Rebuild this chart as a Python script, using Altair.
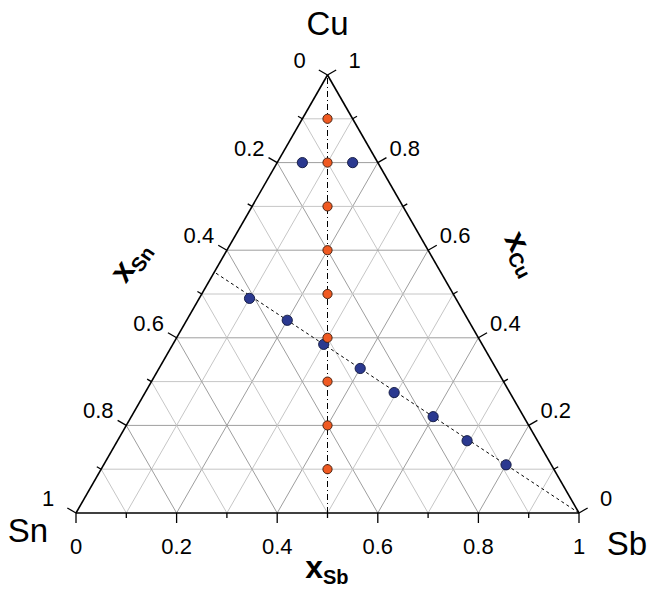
import altair as alt
import pandas as pd

# ---------------- data (ternary compositions) ----------------
grid_vals = [0.1, 0.2, 0.3, 0.4, 0.5, 0.6, 0.7, 0.8, 0.9]
tick_vals = [0.0, 0.1, 0.2, 0.3, 0.4, 0.5, 0.6, 0.7, 0.8, 0.9, 1.0]
label_vals = [0.0, 0.2, 0.4, 0.6, 0.8, 1.0]
label_text = ["0", "0.2", "0.4", "0.6", "0.8", "1"]

# orange series: x_Sn = x_Sb, varying x_Cu
orange_cu = [0.9, 0.8, 0.7, 0.6, 0.5, 0.4, 0.3, 0.2, 0.1]
orange_sb = [0.05, 0.10, 0.15, 0.20, 0.25, 0.30, 0.35, 0.40, 0.45]

# blue series
blue_cu = [0.80, 0.80, 0.49, 0.44, 0.385, 0.33, 0.275, 0.22, 0.165, 0.11]
blue_sb = [0.05, 0.15, 0.10, 0.20, 0.30, 0.40, 0.495, 0.60, 0.695, 0.80]

# guide lines (start / end compositions)
dashdot_sb = [0.5, 0.0]
dashdot_cu = [0.0, 1.0]
dashed_sb = [1.0, 0.0]
dashed_cu = [0.0, 0.55]

corner_names = ["Sn", "Sb", "Cu"]
corner_sb = [0.0, 1.0, 0.0]
corner_cu = [0.0, 0.0, 1.0]

FONT = "Liberation Sans"
PX_W, PX_H = 503.0, 438.0
xs = alt.Scale(domain=[-76 / PX_W, (648 - 76) / PX_W], nice=False, zero=False)
ys = alt.Scale(domain=[-77 / PX_H, 513 / PX_H], nice=False, zero=False)


def tern(chart):
    return chart.transform_calculate(X="datum.sb + datum.cu / 2", Y="datum.cu")


# ---------------- grid ----------------
g_rows = []
for v in grid_vals:
    kind = "even" if round(v * 10) % 2 == 0 else "odd"
    g_rows.append(dict(sb=0.0, cu=v, sb2=1 - v, cu2=v, kind=kind))
    g_rows.append(dict(sb=v, cu=0.0, sb2=v, cu2=1 - v, kind=kind))
    g_rows.append(dict(sb=1 - v, cu=0.0, sb2=0.0, cu2=1 - v, kind=kind))
grid_df = pd.DataFrame(g_rows)

grid = (
    alt.Chart(grid_df)
    .transform_calculate(X="datum.sb + datum.cu / 2", Y="datum.cu",
                         X2="datum.sb2 + datum.cu2 / 2", Y2="datum.cu2")
    .mark_rule(strokeWidth=1)
    .encode(
        x=alt.X("X:Q", scale=xs, axis=None),
        y=alt.Y("Y:Q", scale=ys, axis=None),
        x2="X2:Q",
        y2="Y2:Q",
        color=alt.Color("kind:N", scale=alt.Scale(domain=["even", "odd"],
                                                   range=["#9e9e9e", "#c6c6c6"]), legend=None),
    )
)

# ---------------- triangle edges ----------------
edge_df = pd.DataFrame(dict(sb=[0.0, 1.0, 0.0], cu=[0.0, 0.0, 1.0],
                            sb2=[1.0, 0.0, 0.0], cu2=[0.0, 1.0, 0.0]))
edges = (
    alt.Chart(edge_df)
    .transform_calculate(X="datum.sb + datum.cu / 2", Y="datum.cu",
                         X2="datum.sb2 + datum.cu2 / 2", Y2="datum.cu2")
    .mark_rule(strokeWidth=1.6, color="black")
    .encode(x=alt.X("X:Q", scale=xs, axis=None), y=alt.Y("Y:Q", scale=ys, axis=None),
            x2="X2:Q", y2="Y2:Q")
)

# ---------------- ticks ----------------
tick_layers = []
edge_pts = {
    "bottom": ([v for v in tick_vals], [0.0 for v in tick_vals], (0.0, 1.0)),
    "left": ([0.0 for v in tick_vals], [1 - v for v in tick_vals], (-0.866, -0.5)),
    "right": ([1 - v for v in tick_vals], [v for v in tick_vals], (0.866, -0.5)),
}
for name, (sbl, cul, (nx, ny)) in edge_pts.items():
    df = pd.DataFrame(dict(sb=sbl, cu=cul, v=tick_vals))
    df["major"] = [round(v * 10) % 2 == 0 for v in tick_vals]
    for major, L in ((True, 10.0), (False, 5.0)):
        sub = df[df["major"] == major]
        tick_layers.append(
            tern(alt.Chart(sub))
            .mark_rule(color="black", strokeWidth=1.3, x2Offset=nx * L, y2Offset=ny * L)
            .encode(x=alt.X("X:Q", scale=xs, axis=None), y=alt.Y("Y:Q", scale=ys, axis=None),
                    x2="X:Q", y2="Y:Q")
        )

# ---------------- tick labels ----------------
bottom_lab = pd.DataFrame(dict(sb=label_vals, cu=[0.0] * 6, t=label_text))
left_lab = pd.DataFrame(dict(sb=[0.0] * 6, cu=[1 - v for v in label_vals], t=label_text))
right_lab = pd.DataFrame(dict(sb=[1 - v for v in label_vals], cu=label_vals, t=label_text))


def labels(df, dx, dy):
    return (
        tern(alt.Chart(df))
        .mark_text(font=FONT, fontSize=22, align="center", baseline="middle", dx=dx, dy=dy, color="black")
        .encode(x=alt.X("X:Q", scale=xs, axis=None), y=alt.Y("Y:Q", scale=ys, axis=None), text="t:N")
    )


lab_layers = [labels(bottom_lab, 0, 34), labels(left_lab, -28, -14), labels(right_lab, 27, -14)]

# ---------------- corner names ----------------
corner_df = pd.DataFrame(dict(sb=corner_sb, cu=corner_cu, name=corner_names))
corner_off = {"Sn": (-48, 19), "Sb": (48, 32), "Cu": (0, -50)}
corner_layers = []
for nm, (dx, dy) in corner_off.items():
    corner_layers.append(
        tern(alt.Chart(corner_df[corner_df["name"] == nm]))
        .mark_text(font=FONT, fontSize=33, align="center", baseline="middle", dx=dx, dy=dy, color="black")
        .encode(x=alt.X("X:Q", scale=xs, axis=None), y=alt.Y("Y:Q", scale=ys, axis=None), text="name:N")
    )

# ---------------- axis titles (x with subscript) ----------------
title_layers = []
for sub_txt, px, py, ang in (("Sb", 323, 578, 0), ("Sn", 136, 270, 305), ("Cu", 512, 254, 62)):
    tdf = pd.DataFrame(dict(t=["x"], s=[sub_txt]))
    title_layers.append(
        alt.Chart(tdf).mark_text(font=FONT, fontSize=32, fontWeight="bold", align="right",
                                 baseline="alphabetic", angle=ang, color="black")
        .encode(x=alt.value(px), y=alt.value(py), text="t:N")
    )
    title_layers.append(
        alt.Chart(tdf).mark_text(font=FONT, fontSize=20, fontWeight="bold", align="left",
                                 baseline="alphabetic", angle=ang, dx=0, dy=6, color="black")
        .encode(x=alt.value(px), y=alt.value(py), text="s:N")
    )

# ---------------- guide lines ----------------
dd_df = pd.DataFrame(dict(sb=dashdot_sb, cu=dashdot_cu, o=[0, 1]))
ds_df = pd.DataFrame(dict(sb=dashed_sb, cu=dashed_cu, o=[0, 1]))
dashdot = (
    tern(alt.Chart(dd_df))
    .mark_line(color="black", strokeWidth=1, strokeDash=[6, 3, 1, 3])
    .encode(x=alt.X("X:Q", scale=xs, axis=None), y=alt.Y("Y:Q", scale=ys, axis=None), order="o:Q")
)
dashed = (
    tern(alt.Chart(ds_df))
    .mark_line(color="black", strokeWidth=1, strokeDash=[3, 3])
    .encode(x=alt.X("X:Q", scale=xs, axis=None), y=alt.Y("Y:Q", scale=ys, axis=None), order="o:Q")
)

# ---------------- points ----------------
blue_df = pd.DataFrame(dict(sb=blue_sb, cu=blue_cu))
orange_df = pd.DataFrame(dict(sb=orange_sb, cu=orange_cu))
blue = (
    tern(alt.Chart(blue_df))
    .mark_point(filled=True, shape="circle", size=105, color="#2b3990", stroke="#10163d",
                strokeWidth=0.9, opacity=1)
    .encode(x=alt.X("X:Q", scale=xs, axis=None), y=alt.Y("Y:Q", scale=ys, axis=None))
)
orange = (
    tern(alt.Chart(orange_df))
    .mark_point(filled=True, shape="circle", size=85, color="#f05a22", stroke="#3a1a0a",
                strokeWidth=0.9, opacity=1)
    .encode(x=alt.X("X:Q", scale=xs, axis=None), y=alt.Y("Y:Q", scale=ys, axis=None))
)

chart = (
    alt.layer(grid, dashdot, dashed, edges, *tick_layers, *lab_layers, *corner_layers,
              *title_layers, blue, orange)
    .properties(width=648, height=590, autosize="none", padding=0)
    .configure_view(stroke=None)
)

chart.save("out.html", embed_options={"renderer": "svg", "actions": False})
